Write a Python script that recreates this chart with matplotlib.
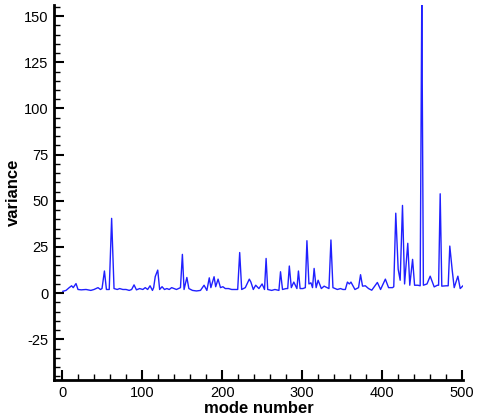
import matplotlib
matplotlib.use("Agg")
import matplotlib.pyplot as plt
from matplotlib.ticker import MultipleLocator

plt.rcParams['font.family'] = ['Liberation Sans', 'DejaVu Sans']
plt.rcParams['axes.unicode_minus'] = False

mode = [1, 5, 9, 12, 14, 17.5, 20, 24, 30, 36, 40, 45, 48, 50, 53, 55.5, 59, 62, 65,
        69, 72, 76, 80, 84, 87, 90, 93, 97, 101, 104, 107, 110, 113, 114.5, 116.5, 119.6, 122,
        125, 128, 131, 134, 137, 140, 143, 148, 150.4, 152.5, 156, 158.5, 163, 168, 173,
        177.5, 181, 184, 186, 190, 192, 195, 198, 201, 204, 208, 212, 216, 219.5, 222, 224.5,
        229, 234, 236, 239, 242, 246, 250, 253, 255, 257, 262, 266, 271, 273, 275.5,
        280, 282, 284, 286.5, 289.6, 293.5, 295.4, 297.5, 301, 304, 306, 308.5, 311, 313, 315,
        317.5, 320, 324, 327.5, 333.5, 336, 338.5, 344, 348, 351, 354, 356.6, 359, 361,
        366, 370.5, 373, 375.5, 379, 383, 387, 394, 398, 404, 408, 413, 414.5, 417, 420, 422.5,
        425.4, 428, 432, 434.5, 438, 440.5, 444.6, 447.5, 449.5, 451.5, 456, 460, 465, 469, 470.5,
        472.5, 474.5, 480, 482.5, 484.5, 487.5, 490, 494.6, 497.5, 501]
variance = [1, 1.5, 3, 4, 3, 5.2, 2, 1.8, 2, 1.5, 2, 3, 2, 2.5, 12, 2, 2, 40.5, 2.5,
            2, 2.5, 2, 2, 1.5, 2, 4.5, 1.8, 2.5, 2, 3, 2, 4, 1.5, 3, 9, 12.5, 2,
            3.5, 2, 2.5, 2, 3, 2.5, 2, 3, 21, 2, 8.5, 2.5, 1.5, 1.2, 1.5,
            4.3, 1.5, 8.3, 3, 8.9, 3.5, 7.6, 3, 3.5, 2.5, 2.5, 2, 2, 2, 22, 2,
            3, 7.6, 6, 2, 4.3, 2.5, 5, 2, 18.8, 2, 1.5, 2, 1.5, 11.6, 2,
            2.5, 2.5, 14.7, 3, 6, 2.5, 12, 2.5, 2.5, 3, 28.4, 5, 5.6, 3, 13.4,
            3, 7, 2.5, 3.8, 2.5, 28.8, 3, 2, 2.5, 2, 2, 6, 5, 6,
            2, 3, 10, 3.8, 4, 2.5, 1.6, 5.8, 2, 7.6, 3, 3, 3.5, 43.3, 13, 7,
            47.5, 5, 27, 4.3, 18.3, 4.3, 4.3, 4, 160, 4.3, 5, 9.2, 3.4, 4.3, 4.3,
            53.8, 3.8, 4, 4, 25.5, 12.5, 3, 9.2, 2.5, 4]

fig = plt.figure(figsize=(4.78, 4.20), dpi=100)
ax = fig.add_axes([54/478, 1-380/420, (463-54)/478, (380-5)/420])
ax.plot(mode, variance, color='#2020ff', lw=1.0, clip_on=True)

ax.set_xlim(-10, 501)
ax.set_ylim(-47, 156)
ax.xaxis.set_major_locator(MultipleLocator(100))
ax.xaxis.set_minor_locator(MultipleLocator(20))
ax.yaxis.set_major_locator(MultipleLocator(25))
ax.yaxis.set_minor_locator(MultipleLocator(5))
ax.set_yticks([-25, 0, 25, 50, 75, 100, 125, 150])

for s in ['top', 'right']:
    ax.spines[s].set_visible(False)
for s in ['left', 'bottom']:
    ax.spines[s].set_linewidth(2)

ax.tick_params(which='major', direction='in', length=7.5, width=1.5, labelsize=10.5, pad=4)
ax.tick_params(which='minor', direction='in', length=4.5, width=1)

ax.set_xlabel('mode number', fontsize=12, fontweight='bold', labelpad=1)
ax.set_ylabel('variance', fontsize=12, fontweight='bold', labelpad=2)

fig.savefig('out.png', dpi=100)
